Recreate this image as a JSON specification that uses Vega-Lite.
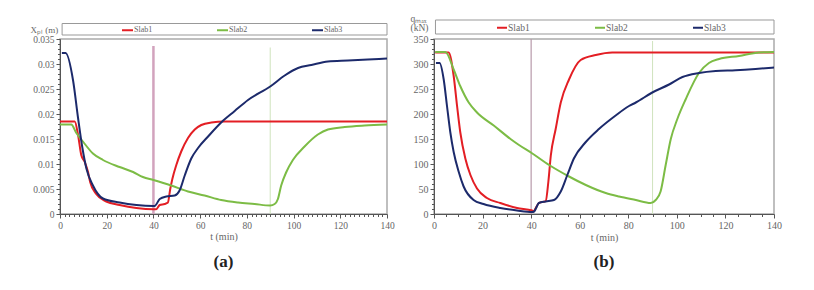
{
  "$schema": "https://vega.github.io/schema/vega-lite/v6.json",
  "padding": {"left": 29, "top": 12, "right": 5, "bottom": 5},
  "spacing": 14,
  "config": {
    "font": "Liberation Serif, Times New Roman, serif",
    "view": {"stroke": "#aaa", "strokeWidth": 1.5},
    "axis": {"labelFont": "Liberation Serif, Times New Roman, serif", "labelColor": "#666", "titleFont": "Liberation Serif, Times New Roman, serif", "titleColor": "#666", "titleFontWeight": "normal", "domainColor": "#555", "tickColor": "#555", "grid": false, "labelFlush": false, "labelOverlap": false},
    "legend": {"labelFont": "Liberation Serif, Times New Roman, serif", "labelColor": "#666"},
    "title": {"font": "Liberation Serif, Times New Roman, serif", "fontWeight": "bold", "fontSize": 17, "color": "#222"}
  },
  "resolve": {"scale": {"color": "independent"}, "legend": {"color": "independent"}},
  "datasets": {
    "xpl": [
      {"slab": "Slab1", "t": 0, "v": 0.0185}, {"slab": "Slab1", "t": 6.3, "v": 0.0185}, {"slab": "Slab1", "t": 7.7, "v": 0.0159}, {"slab": "Slab1", "t": 9.1, "v": 0.0118}, {"slab": "Slab1", "t": 10.6, "v": 0.0104}, {"slab": "Slab1", "t": 12, "v": 0.0084}, {"slab": "Slab1", "t": 12.9, "v": 0.0064}, {"slab": "Slab1", "t": 15.5, "v": 0.004}, {"slab": "Slab1", "t": 19.8, "v": 0.0025}, {"slab": "Slab1", "t": 25.5, "v": 0.0018}, {"slab": "Slab1", "t": 32.7, "v": 0.0012}, {"slab": "Slab1", "t": 40, "v": 0.00095}, {"slab": "Slab1", "t": 41.2, "v": 0.00095}, {"slab": "Slab1", "t": 42.7, "v": 0.0018}, {"slab": "Slab1", "t": 44.8, "v": 0.002}, {"slab": "Slab1", "t": 46.2, "v": 0.0023}, {"slab": "Slab1", "t": 47.2, "v": 0.005}, {"slab": "Slab1", "t": 48.1, "v": 0.007}, {"slab": "Slab1", "t": 49.8, "v": 0.0098}, {"slab": "Slab1", "t": 51.9, "v": 0.0125}, {"slab": "Slab1", "t": 54.8, "v": 0.0152}, {"slab": "Slab1", "t": 57.7, "v": 0.0169}, {"slab": "Slab1", "t": 60.5, "v": 0.0178}, {"slab": "Slab1", "t": 64.8, "v": 0.0183}, {"slab": "Slab1", "t": 70.5, "v": 0.0185}, {"slab": "Slab1", "t": 140, "v": 0.0185},
      {"slab": "Slab2", "t": 0, "v": 0.0179}, {"slab": "Slab2", "t": 4.8, "v": 0.0179}, {"slab": "Slab2", "t": 7, "v": 0.0162}, {"slab": "Slab2", "t": 9.8, "v": 0.0145}, {"slab": "Slab2", "t": 14.1, "v": 0.0121}, {"slab": "Slab2", "t": 18.4, "v": 0.0108}, {"slab": "Slab2", "t": 25.5, "v": 0.0094}, {"slab": "Slab2", "t": 31.3, "v": 0.0084}, {"slab": "Slab2", "t": 35.5, "v": 0.0074}, {"slab": "Slab2", "t": 40, "v": 0.0068}, {"slab": "Slab2", "t": 47.6, "v": 0.0057}, {"slab": "Slab2", "t": 54.8, "v": 0.0045}, {"slab": "Slab2", "t": 61.9, "v": 0.0037}, {"slab": "Slab2", "t": 69, "v": 0.0028}, {"slab": "Slab2", "t": 76.2, "v": 0.0023}, {"slab": "Slab2", "t": 83.3, "v": 0.002}, {"slab": "Slab2", "t": 90, "v": 0.0017}, {"slab": "Slab2", "t": 91.9, "v": 0.002}, {"slab": "Slab2", "t": 93.3, "v": 0.003}, {"slab": "Slab2", "t": 94.7, "v": 0.0057}, {"slab": "Slab2", "t": 96.9, "v": 0.0084}, {"slab": "Slab2", "t": 99.7, "v": 0.0108}, {"slab": "Slab2", "t": 104.7, "v": 0.0135}, {"slab": "Slab2", "t": 110.4, "v": 0.0159}, {"slab": "Slab2", "t": 114.7, "v": 0.0169}, {"slab": "Slab2", "t": 121.9, "v": 0.0174}, {"slab": "Slab2", "t": 130.4, "v": 0.0177}, {"slab": "Slab2", "t": 140, "v": 0.0179},
      {"slab": "Slab3", "t": 0.8, "v": 0.0322}, {"slab": "Slab3", "t": 2.4, "v": 0.0322}, {"slab": "Slab3", "t": 5.6, "v": 0.0267}, {"slab": "Slab3", "t": 7.7, "v": 0.0193}, {"slab": "Slab3", "t": 9.6, "v": 0.0132}, {"slab": "Slab3", "t": 11.3, "v": 0.0091}, {"slab": "Slab3", "t": 14.1, "v": 0.0057}, {"slab": "Slab3", "t": 18.4, "v": 0.0031}, {"slab": "Slab3", "t": 25.5, "v": 0.0023}, {"slab": "Slab3", "t": 32.7, "v": 0.0018}, {"slab": "Slab3", "t": 40, "v": 0.0016}, {"slab": "Slab3", "t": 40.5, "v": 0.0016}, {"slab": "Slab3", "t": 42.7, "v": 0.003}, {"slab": "Slab3", "t": 45.5, "v": 0.0035}, {"slab": "Slab3", "t": 49.1, "v": 0.0037}, {"slab": "Slab3", "t": 51.2, "v": 0.0047}, {"slab": "Slab3", "t": 53.4, "v": 0.0077}, {"slab": "Slab3", "t": 56.2, "v": 0.0111}, {"slab": "Slab3", "t": 59.1, "v": 0.0132}, {"slab": "Slab3", "t": 63.4, "v": 0.0155}, {"slab": "Slab3", "t": 69, "v": 0.0183}, {"slab": "Slab3", "t": 74.8, "v": 0.0206}, {"slab": "Slab3", "t": 80.5, "v": 0.0228}, {"slab": "Slab3", "t": 90, "v": 0.0255}, {"slab": "Slab3", "t": 96.2, "v": 0.0277}, {"slab": "Slab3", "t": 101.9, "v": 0.0292}, {"slab": "Slab3", "t": 107.6, "v": 0.0298}, {"slab": "Slab3", "t": 114.7, "v": 0.0305}, {"slab": "Slab3", "t": 123.3, "v": 0.0307}, {"slab": "Slab3", "t": 131.8, "v": 0.0309}, {"slab": "Slab3", "t": 140, "v": 0.0311}
    ],
    "qmax": [
      {"slab": "Slab1", "t": 0.5, "v": 323}, {"slab": "Slab1", "t": 6, "v": 323}, {"slab": "Slab1", "t": 8.1, "v": 276}, {"slab": "Slab1", "t": 9.5, "v": 216}, {"slab": "Slab1", "t": 10.8, "v": 164}, {"slab": "Slab1", "t": 12.9, "v": 111}, {"slab": "Slab1", "t": 15, "v": 78}, {"slab": "Slab1", "t": 17.7, "v": 51}, {"slab": "Slab1", "t": 21.8, "v": 32}, {"slab": "Slab1", "t": 27.3, "v": 22}, {"slab": "Slab1", "t": 34.2, "v": 12}, {"slab": "Slab1", "t": 40.4, "v": 7}, {"slab": "Slab1", "t": 41, "v": 5}, {"slab": "Slab1", "t": 41.9, "v": 12}, {"slab": "Slab1", "t": 43.2, "v": 22}, {"slab": "Slab1", "t": 46, "v": 26}, {"slab": "Slab1", "t": 47.1, "v": 65}, {"slab": "Slab1", "t": 48.1, "v": 117}, {"slab": "Slab1", "t": 50.1, "v": 170}, {"slab": "Slab1", "t": 52.2, "v": 223}, {"slab": "Slab1", "t": 55.6, "v": 269}, {"slab": "Slab1", "t": 60.4, "v": 308}, {"slab": "Slab1", "t": 66.6, "v": 318}, {"slab": "Slab1", "t": 73.4, "v": 323}, {"slab": "Slab1", "t": 140, "v": 323},
      {"slab": "Slab2", "t": 0.5, "v": 324}, {"slab": "Slab2", "t": 4.7, "v": 324}, {"slab": "Slab2", "t": 8.1, "v": 289}, {"slab": "Slab2", "t": 10.8, "v": 256}, {"slab": "Slab2", "t": 14.3, "v": 223}, {"slab": "Slab2", "t": 17.7, "v": 203}, {"slab": "Slab2", "t": 24.6, "v": 177}, {"slab": "Slab2", "t": 31.5, "v": 150}, {"slab": "Slab2", "t": 35, "v": 138}, {"slab": "Slab2", "t": 40.5, "v": 121}, {"slab": "Slab2", "t": 47.4, "v": 98}, {"slab": "Slab2", "t": 55.6, "v": 75}, {"slab": "Slab2", "t": 62.5, "v": 58}, {"slab": "Slab2", "t": 70.7, "v": 42}, {"slab": "Slab2", "t": 76.2, "v": 35}, {"slab": "Slab2", "t": 83.1, "v": 28}, {"slab": "Slab2", "t": 89.2, "v": 22}, {"slab": "Slab2", "t": 91.3, "v": 28}, {"slab": "Slab2", "t": 93.3, "v": 45}, {"slab": "Slab2", "t": 95.4, "v": 98}, {"slab": "Slab2", "t": 97.5, "v": 150}, {"slab": "Slab2", "t": 100.2, "v": 190}, {"slab": "Slab2", "t": 103.6, "v": 229}, {"slab": "Slab2", "t": 109.1, "v": 282}, {"slab": "Slab2", "t": 113.2, "v": 302}, {"slab": "Slab2", "t": 117.4, "v": 310}, {"slab": "Slab2", "t": 125.6, "v": 316}, {"slab": "Slab2", "t": 133.8, "v": 323}, {"slab": "Slab2", "t": 140, "v": 324},
      {"slab": "Slab3", "t": 0.8, "v": 302}, {"slab": "Slab3", "t": 2.3, "v": 302}, {"slab": "Slab3", "t": 4, "v": 269}, {"slab": "Slab3", "t": 5.35, "v": 216}, {"slab": "Slab3", "t": 6.7, "v": 164}, {"slab": "Slab3", "t": 8.1, "v": 124}, {"slab": "Slab3", "t": 10.2, "v": 84}, {"slab": "Slab3", "t": 12.2, "v": 55}, {"slab": "Slab3", "t": 16.3, "v": 28}, {"slab": "Slab3", "t": 20.4, "v": 20}, {"slab": "Slab3", "t": 27.3, "v": 12}, {"slab": "Slab3", "t": 34.2, "v": 7}, {"slab": "Slab3", "t": 40.4, "v": 4}, {"slab": "Slab3", "t": 41.2, "v": 5}, {"slab": "Slab3", "t": 43.2, "v": 22}, {"slab": "Slab3", "t": 46, "v": 25}, {"slab": "Slab3", "t": 49.4, "v": 28}, {"slab": "Slab3", "t": 52.2, "v": 45}, {"slab": "Slab3", "t": 54.9, "v": 78}, {"slab": "Slab3", "t": 57.6, "v": 111}, {"slab": "Slab3", "t": 62.5, "v": 144}, {"slab": "Slab3", "t": 67.9, "v": 170}, {"slab": "Slab3", "t": 74.8, "v": 197}, {"slab": "Slab3", "t": 80.3, "v": 216}, {"slab": "Slab3", "t": 83.1, "v": 223}, {"slab": "Slab3", "t": 89.9, "v": 243}, {"slab": "Slab3", "t": 96.8, "v": 259}, {"slab": "Slab3", "t": 102.3, "v": 274}, {"slab": "Slab3", "t": 109.1, "v": 282}, {"slab": "Slab3", "t": 116, "v": 286}, {"slab": "Slab3", "t": 124.2, "v": 287.5}, {"slab": "Slab3", "t": 132.4, "v": 290}, {"slab": "Slab3", "t": 140, "v": 293}
    ]
  },
  "hconcat": [
    {
      "width": 327,
      "height": 175,
      "title": {"text": "(a)", "orient": "bottom", "anchor": "middle", "offset": 12},
      "resolve": {"axis": {"x": "independent", "y": "independent"}},
      "layer": [
        {
          "data": {"values": [{}]},
          "mark": {"type": "rect", "fill": "white", "stroke": "#999", "strokeWidth": 1},
          "encoding": {
            "x": {"datum": 0.9, "type": "quantitative", "scale": {"domain": [0, 140], "nice": false},
              "axis": {"orient": "bottom", "values": [2,4,6,8,10,12,14,16,18,22,24,26,28,30,32,34,36,38,42,44,46,48,50,52,54,56,58,62,64,66,68,70,72,74,76,78,82,84,86,88,90,92,94,96,98,102,104,106,108,110,112,114,116,118,122,124,126,128,130,132,134,136,138], "labels": false, "title": null, "domain": false, "tickSize": 2.5}},
            "x2": {"datum": 140},
            "y": {"datum": 0.0358, "type": "quantitative", "scale": {"domain": [0, 0.035], "nice": false},
              "axis": {"orient": "left", "values": [0.001,0.002,0.003,0.004,0.006,0.007,0.008,0.009,0.011,0.012,0.013,0.014,0.016,0.017,0.018,0.019,0.021,0.022,0.023,0.024,0.026,0.027,0.028,0.029,0.031,0.032,0.033,0.034], "labels": false, "title": null, "domain": false, "tickSize": 2.5}},
            "y2": {"datum": 0.0381}
          }
        },
        {
          "data": {"values": [{}]},
          "mark": {"type": "rule", "stroke": "#d2a3bd", "strokeWidth": 2.5},
          "encoding": {"x": {"datum": 40, "type": "quantitative", "axis": null}, "y": {"datum": 0.0336, "type": "quantitative", "axis": null}, "y2": {"datum": 0}}
        },
        {
          "data": {"values": [{}]},
          "mark": {"type": "rule", "stroke": "#cfe3bd", "strokeWidth": 1},
          "encoding": {"x": {"datum": 90, "type": "quantitative", "axis": null}, "y": {"datum": 0.0333, "type": "quantitative", "axis": null}, "y2": {"datum": 0}}
        },
        {
          "data": {"name": "xpl"},
          "mark": {"type": "line", "strokeWidth": 2, "interpolate": "monotone"},
          "encoding": {
            "x": {"field": "t", "type": "quantitative", "scale": {"domain": [0, 140], "nice": false},
              "axis": {"orient": "bottom", "values": [0, 20, 40, 60, 80, 100, 120, 140], "title": "t (min)", "labelFontSize": 9.5, "titleFontSize": 10, "tickSize": 4, "labelPadding": 2, "titlePadding": 2}},
            "y": {"field": "v", "type": "quantitative", "scale": {"domain": [0, 0.035], "nice": false},
              "axis": {"orient": "left", "values": [0, 0.005, 0.01, 0.015, 0.02, 0.025, 0.03, 0.035], "format": "~g", "labelFontSize": 9.5, "tickSize": 4, "labelPadding": 2,
                "title": "Xₚₗ (m)", "titleFontSize": 9, "titleAngle": 0, "titleAlign": "left", "titleBaseline": "middle", "titleX": -30, "titleY": -10}},
            "color": {"field": "slab", "type": "nominal",
              "scale": {"domain": ["Slab1", "Slab2", "Slab3"], "range": ["#e31e24", "#7cbc45", "#1c2a6b"]},
              "legend": {"orient": "none", "legendX": 61, "legendY": -15.5, "direction": "horizontal", "title": null, "symbolType": "stroke", "symbolSize": 121, "symbolStrokeWidth": 2, "columnPadding": 60, "labelOffset": 0, "labelFontSize": 8}}
          }
        }
      ]
    },
    {
      "width": 340,
      "height": 175,
      "title": {"text": "(b)", "orient": "bottom", "anchor": "middle", "offset": 12},
      "resolve": {"axis": {"x": "independent", "y": "independent"}},
      "layer": [
        {
          "data": {"values": [{}]},
          "mark": {"type": "rect", "fill": "white", "stroke": "#999", "strokeWidth": 1},
          "encoding": {
            "x": {"datum": 0.6, "type": "quantitative", "scale": {"domain": [0, 140], "nice": false},
              "axis": {"orient": "bottom", "values": [5,10,15,25,30,35,45,50,55,65,70,75,85,90,95,105,110,115,125,130,135], "labels": false, "title": null, "domain": false, "tickSize": 2.5}},
            "x2": {"datum": 140},
            "y": {"datum": 360, "type": "quantitative", "scale": {"domain": [0, 350], "nice": false},
              "axis": {"orient": "left", "values": [10,20,30,40,60,70,80,90,110,120,130,140,160,170,180,190,210,220,230,240,260,270,280,290,310,320,330,340], "labels": false, "title": null, "domain": false, "tickSize": 2.5}},
            "y2": {"datum": 388}
          }
        },
        {
          "data": {"values": [{}]},
          "mark": {"type": "rule", "stroke": "#b89aab", "strokeWidth": 1.2},
          "encoding": {"x": {"datum": 40, "type": "quantitative", "axis": null}, "y": {"datum": 350, "type": "quantitative", "axis": null}, "y2": {"datum": 0}}
        },
        {
          "data": {"values": [{}]},
          "mark": {"type": "rule", "stroke": "#cfe3bd", "strokeWidth": 1},
          "encoding": {"x": {"datum": 90, "type": "quantitative", "axis": null}, "y": {"datum": 346, "type": "quantitative", "axis": null}, "y2": {"datum": 0}}
        },
        {
          "data": {"name": "qmax"},
          "mark": {"type": "line", "strokeWidth": 2, "interpolate": "monotone"},
          "encoding": {
            "x": {"field": "t", "type": "quantitative", "scale": {"domain": [0, 140], "nice": false},
              "axis": {"orient": "bottom", "values": [0, 20, 40, 60, 80, 100, 120, 140], "title": "t (min)", "labelFontSize": 10, "titleFontSize": 10, "tickSize": 4, "labelPadding": 2, "titlePadding": 2}},
            "y": {"field": "v", "type": "quantitative", "scale": {"domain": [0, 350], "nice": false},
              "axis": {"orient": "left", "values": [0, 50, 100, 150, 200, 250, 300, 350], "labelFontSize": 10, "tickSize": 4, "labelPadding": 2,
                "title": ["qₘₐₓ", "(kN)"], "titleFontSize": 9.5, "titleLineHeight": 9, "titleAngle": 0, "titleAlign": "left", "titleBaseline": "top", "titleX": -24, "titleY": -26}},
            "color": {"field": "slab", "type": "nominal",
              "scale": {"domain": ["Slab1", "Slab2", "Slab3"], "range": ["#e31e24", "#7cbc45", "#1c2a6b"]},
              "legend": {"orient": "none", "legendX": 62, "legendY": -17.5, "direction": "horizontal", "title": null, "symbolType": "stroke", "symbolSize": 100, "symbolStrokeWidth": 2, "columnPadding": 61, "labelOffset": 0, "labelFontSize": 9.5}}
          }
        }
      ]
    }
  ]
}
